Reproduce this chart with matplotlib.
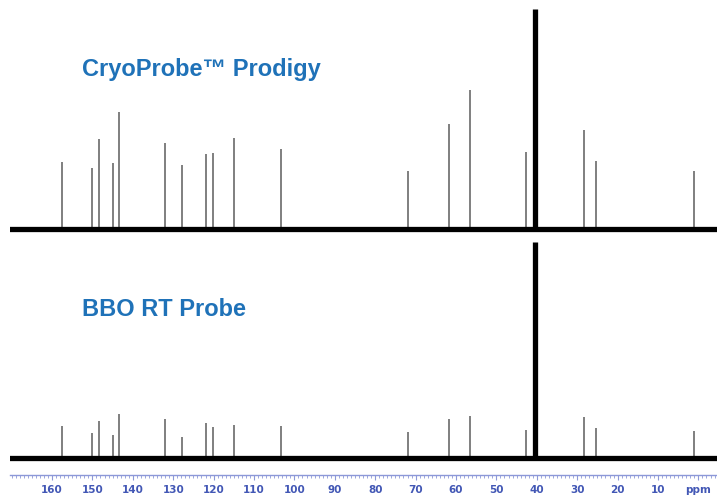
import numpy as np
import matplotlib.pyplot as plt

# Pozycje pików [ppm]
peaks_ppm = [157.6, 150.2, 148.4, 144.8, 143.3, 132.1, 127.9, 121.9, 120.1,
             115.0, 103.4, 71.9, 61.7, 56.5, 42.8, 28.4, 25.3, 1.2]
# Wysokości pików (jednostki względne)
cryo_heights = [67, 61, 90, 66, 117, 86, 64, 75, 76,
                91, 80, 58, 105, 139, 77, 99, 68, 58]
bbo_heights = [32, 25, 37, 23, 44, 39, 21, 35, 31,
               33, 32, 26, 39, 42, 28, 41, 30, 27]

# Pik rozpuszczalnika (DMSO)
solvent_ppm = 40.4
cryo_solvent = 220
bbo_solvent = 216

tick_values = [160, 150, 140, 130, 120, 110, 100, 90, 80, 70, 60, 50, 40, 30, 20, 10, 0]
tick_labels = ['160', '150', '140', '130', '120', '110', '100', '90', '80', '70',
               '60', '50', '40', '30', '20', '10', 'ppm']

title_color = '#1f72b8'
axis_color = '#8c98d8'
label_color = '#4257b5'

fig = plt.figure(figsize=(7.17, 4.99), dpi=100)
ax = fig.add_axes([10 / 717, 24 / 499, 707 / 717, 475 / 499])

offsets = {'cryo': 246, 'bbo': 17}

for name, heights, solvent in [('cryo', cryo_heights, cryo_solvent),
                               ('bbo', bbo_heights, bbo_solvent)]:
    base = offsets[name]
    ax.vlines(peaks_ppm, base, base + np.array(heights), color='#6a6a6a', lw=1.2)
    ax.vlines(solvent_ppm, base, base + solvent, color='black', lw=3.8)
    ax.axhline(base, color='black', lw=3.8)

fig.text(82 / 717, 1 - 76 / 499, 'CryoProbe™ Prodigy', color=title_color,
         fontsize=17, fontweight='bold', family='Liberation Sans', va='baseline')
fig.text(82 / 717, 1 - 316 / 499, 'BBO RT Probe', color=title_color,
         fontsize=17, fontweight='bold', family='Liberation Sans', va='baseline')

ax.set_xlim(170.4, -4.6)
ax.set_ylim(0, 475)

for s in ['top', 'left', 'right']:
    ax.spines[s].set_visible(False)
ax.spines['bottom'].set_color(axis_color)
ax.spines['bottom'].set_linewidth(1.0)

ax.set_yticks([])
ax.set_xticks(tick_values)
ax.set_xticklabels(tick_labels)
ax.set_xticks(np.arange(-4, 171, 1), minor=True)
ax.tick_params(axis='x', which='major', length=3.5, width=0.8, color=axis_color,
               labelcolor=label_color, labelsize=7.5, pad=4)
ax.tick_params(axis='x', which='minor', length=2, width=0.6, color=axis_color)
for lbl in ax.get_xticklabels():
    lbl.set_fontweight('bold')

plt.savefig('out.png', dpi=100)
